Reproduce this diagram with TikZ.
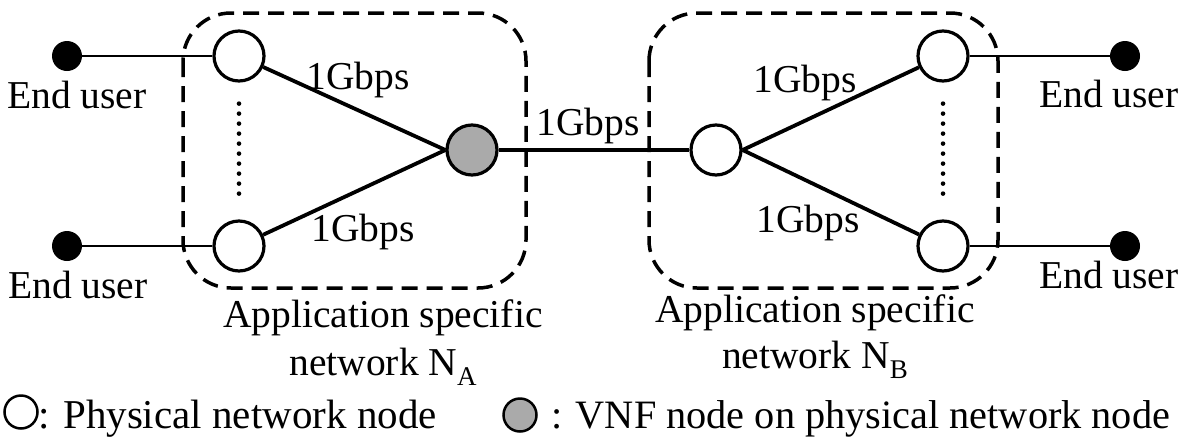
\documentclass[tikz,border=0pt]{standalone}
\usepackage{fontspec}
\setmainfont{Liberation Serif}
\usetikzlibrary{positioning}
\definecolor{vnfgray}{RGB}{170,170,170}
\newcommand{\netsub}[1]{\raisebox{-10pt}{\fontsize{27}{28}\selectfont #1}}

\begin{document}
\begin{tikzpicture}[x=1pt, y=-1pt,
  every node/.style={font=\fontsize{39.5}{44}\selectfont},
  phys/.style={circle, draw, line width=3.2pt, fill=white, minimum size=50pt, inner sep=0pt},
  vnf/.style={phys, fill=vnfgray},
  user/.style={circle, fill=black, minimum size=30pt, inner sep=0pt},
  lbl/.style={anchor=base, inner sep=0pt},
  legtext/.style={anchor=base west, inner sep=0pt, font=\fontsize{41}{46}\selectfont},
  ulink/.style={line width=2.5pt},
  link/.style={line width=3.8pt},
  netbox/.style={line width=3.5pt, dash pattern=on 16pt off 9pt, rounded corners=48pt},
  vdots/.style={line width=4.6pt, line cap=round, dash pattern=on 0pt off 10pt, shorten <=21pt, shorten >=25pt}]
  \useasboundingbox (0,0) rectangle (1186,437);

  % end users
  \node[user] (uA1) at (67,56) {};
  \node[user] (uA2) at (67,246) {};
  \node[user] (uB1) at (1125,56) {};
  \node[user] (uB2) at (1125,246) {};

  % network nodes
  \node[phys] (pA1) at (239,56) {};
  \node[phys] (pA2) at (239,246) {};
  \node[vnf]  (vA)  at (472,150) {};
  \node[phys] (pB)  at (716,150) {};
  \node[phys] (pB1) at (943,56) {};
  \node[phys] (pB2) at (943,246) {};

  % links
  \draw[ulink] (uA1) -- (pA1);
  \draw[ulink] (uA2) -- (pA2);
  \draw[ulink] (uB1) -- (pB1);
  \draw[ulink] (uB2) -- (pB2);
  \draw[link] (pA1) -- (vA.west);
  \draw[link] (pA2) -- (vA.west);
  \draw[link, line width=3.3pt] (vA) -- (pB);
  \draw[link] (pB.east) -- (pB1);
  \draw[link] (pB.east) -- (pB2);
  \draw[vdots] (pA1) -- (pA2);
  \draw[vdots] (pB1) -- (pB2);

  % application specific networks
  \draw[netbox] (183,13) rectangle (526,288);
  \draw[netbox] (649,13) rectangle (998,288);

  % labels
  \node[lbl] (eA1) at (77,108) {End user};
  \node[lbl] (eA2) at (78,298) {End user};
  \node[lbl] (eB1) at (1109,107) {End user};
  \node[lbl] (eB2) at (1109,288) {End user};
  \node[lbl] (gA1) at (358,89) {1Gbps};
  \node[lbl] (gA2) at (363,241) {1Gbps};
  \node[lbl] (gM)  at (588,135) {1Gbps};
  \node[lbl] (gB1) at (805,92) {1Gbps};
  \node[lbl] (gB2) at (808,232) {1Gbps};
  \node[lbl] (nA1) at (383,327) {Application specific};
  \node[lbl] (nA2) at (383,375) {network N\netsub{A}};
  \node[lbl] (nB1) at (815,322) {Application specific};
  \node[lbl] (nB2) at (815,368) {network N\netsub{B}};

  % legend
  \node[phys, line width=2.5pt, minimum size=33pt] (legP) at (21,412) {};
  \node[legtext] (legPt) at (38,428) {: Physical network node};
  \node[vnf, line width=2.5pt, minimum size=33pt] (legV) at (520,415) {};
  \node[legtext, font=\fontsize{40.3}{46}\selectfont] (legVt) at (551,428) {: VNF node on physical network node};
\end{tikzpicture}
\end{document}
